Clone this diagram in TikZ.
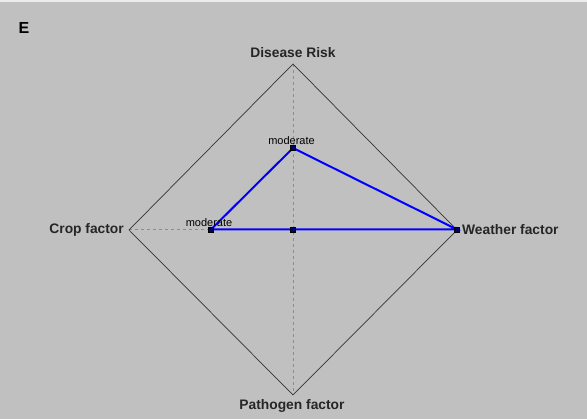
\documentclass[tikz,border=0pt]{standalone}
\usepackage{fontspec}
\setmainfont{Liberation Sans}
\begin{document}
\begin{tikzpicture}[x=1pt,y=-1pt,
  axislbl/.style={font=\bfseries\fontsize{13.8}{15}\selectfont, text=black!85, inner sep=0pt},
  smalllbl/.style={font=\fontsize{11}{12}\selectfont, inner sep=0pt, text=black},
  pt/.style={draw=black, fill=blue!40!black, minimum size=5pt, inner sep=0pt, line width=0.6pt},
  riskline/.style={draw=blue, line width=2pt},
  axis/.style={draw=gray!90, dashed, dash pattern=on 3pt off 3pt, line width=1pt}]
\fill[fill={rgb,255:red,192;green,192;blue,192}] (0,0) rectangle (587,419);
\fill[white!85!gray] (0,0) rectangle (587,2.5);
\useasboundingbox (0,0) rectangle (587,419);
\coordinate (T) at (293,64);
\coordinate (B) at (293,395);
\coordinate (L) at (129,230);
\coordinate (R) at (457,230);
\coordinate (C) at (293,230);
\draw[axis] (T) -- (B);
\draw[axis] (L) -- (R);
\draw[black!80, line width=0.7pt] (T) -- (R) -- (B) -- (L) -- cycle;
\node[pt] (p1) at (293,148) {};
\node[pt] (p2) at (211,229.5) {};
\node[pt] (p3) at (293,229.5) {};
\node[pt] (p4) at (457,229.5) {};
\draw[riskline] (p2.center) -- (p1.center) -- (p4.center) -- (p3.center) -- (p2.center);
\node[pt] at (p1) {};
\node[pt] at (p2) {};
\node[pt] at (p3) {};
\node[pt] at (p4) {};
\node[smalllbl, anchor=base] (m1) at (291.5,145) {moderate};
\node[smalllbl, anchor=base] (m2) at (209,226.5) {moderate};
\node[axislbl, font=\bfseries\fontsize{16}{17}\selectfont, text=black] (E) at (24,28) {E};
\node[axislbl] (dr) at (293,53) {Disease Risk};
\node[axislbl, anchor=east] (cf) at (124,230) {Crop factor};
\node[axislbl, anchor=west] (wf) at (462,230) {Weather factor};
\node[axislbl] (pf) at (292,406) {Pathogen factor};
\end{tikzpicture}
\end{document}
